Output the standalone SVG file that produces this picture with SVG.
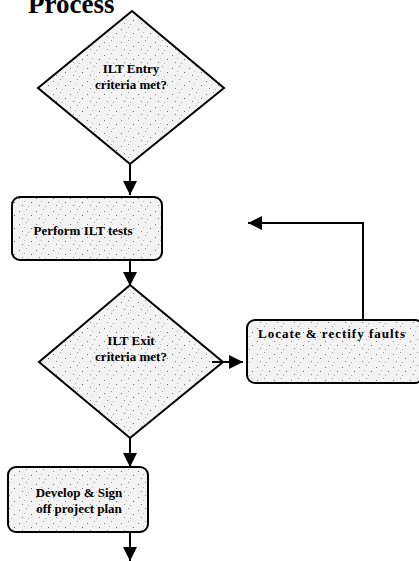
<svg xmlns="http://www.w3.org/2000/svg" width="419" height="561" viewBox="0 0 419 561">
<defs>
<pattern id="stip" width="17" height="13" patternUnits="userSpaceOnUse">
<rect width="17" height="13" fill="#f3f3f3"/>
<rect x="2" y="3" width="1" height="1" fill="#777"/>
<rect x="9" y="1" width="1" height="1" fill="#999"/>
<rect x="14" y="7" width="1" height="1" fill="#666"/>
<rect x="5" y="10" width="1" height="1" fill="#888"/>
<rect x="11" y="11" width="1" height="1" fill="#aaa"/>
<rect x="7" y="6" width="1" height="1" fill="#bbb"/>
</pattern>
<marker id="arr" markerUnits="userSpaceOnUse" markerWidth="14" markerHeight="14" refX="14" refY="7" orient="auto">
<path d="M0,0 L14,7 L0,14 z" fill="#000"/>
</marker>
</defs>
<style>
.shape{fill:url(#stip);stroke:#000;stroke-width:2}
.lbl{font-family:"Liberation Serif","Times New Roman",serif;font-weight:bold;font-size:13px;fill:#000;text-anchor:middle}
.conn{fill:none;stroke:#000;stroke-width:2}
</style>
<rect width="419" height="561" fill="#fff"/>
<text x="28" y="13" font-family="'Liberation Serif','Times New Roman',serif" font-weight="bold" font-size="27" fill="#000">Process</text>
<g id="entry">
<polygon class="shape" points="132,11 224,88 130,164 38,88"/>
<text class="lbl" x="131" y="73">ILT Entry</text>
<text class="lbl" x="131" y="89">criteria met?</text>
</g>
<g id="perform">
<rect class="shape" x="12" y="197" width="150" height="63" rx="8"/>
<text class="lbl" x="83" y="235">Perform ILT tests</text>
</g>
<g id="exit">
<polygon class="shape" points="130,285 223,362 130,438 39,362"/>
<text class="lbl" x="131" y="345">ILT Exit</text>
<text class="lbl" x="131" y="361">criteria met?</text>
</g>
<g id="locate">
<rect class="shape" x="247" y="320" width="176" height="63" rx="8"/>
<text class="lbl" x="332" y="338" letter-spacing="1">Locate &amp; rectify faults</text>
</g>
<g id="develop">
<rect class="shape" x="8" y="467" width="140" height="65" rx="8"/>
<text class="lbl" x="79" y="497">Develop &amp; Sign</text>
<text class="lbl" x="79" y="513">off project plan</text>
</g>
<g id="connectors">
<line class="conn" x1="130" y1="164" x2="130" y2="195" marker-end="url(#arr)"/>
<line class="conn" x1="130" y1="260" x2="130" y2="286" marker-end="url(#arr)"/>
<line class="conn" x1="212" y1="362" x2="243" y2="362" marker-end="url(#arr)"/>
<polyline class="conn" points="363,320 363,223 248,223" marker-end="url(#arr)"/>
<line class="conn" x1="130" y1="438" x2="130" y2="467" marker-end="url(#arr)"/>
<line class="conn" x1="130" y1="532" x2="130" y2="561" marker-end="url(#arr)"/>
</g>
</svg>
